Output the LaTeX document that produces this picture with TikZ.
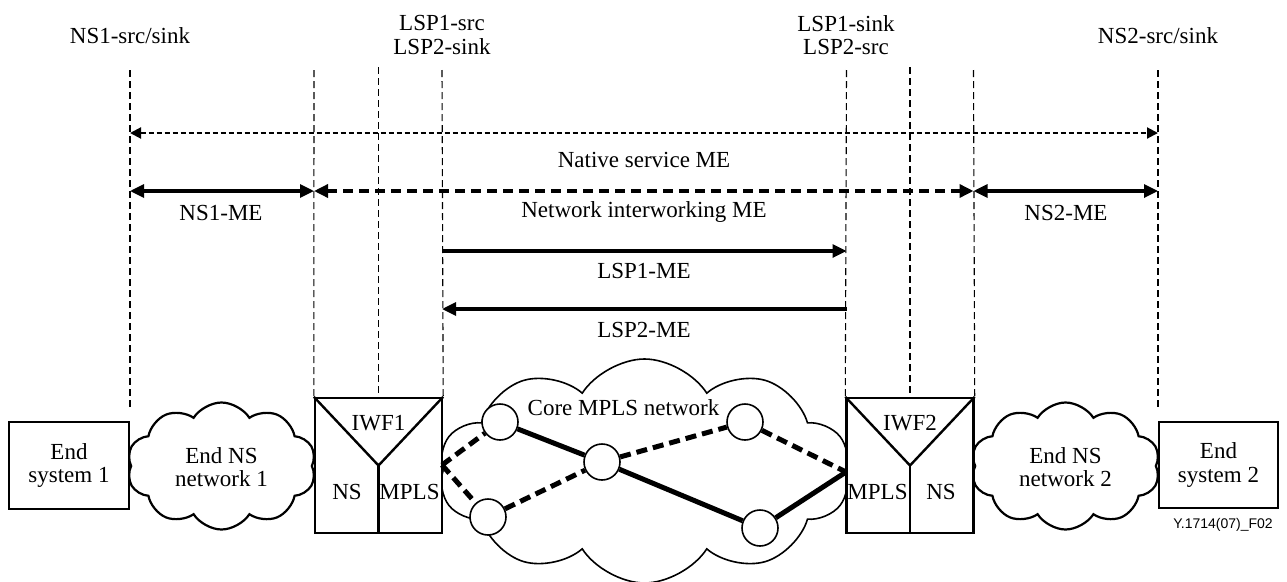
\documentclass[tikz,border=0pt]{standalone}
\usepackage{fontspec}
\setmainfont{Liberation Serif}
\newfontfamily\capfont{Liberation Sans}
\usetikzlibrary{shapes.symbols,arrows.meta,calc}
\begin{document}
\begin{tikzpicture}[x=1pt,y=-1pt,
  every node/.style={font=\fontsize{23}{23.5}\selectfont},
  guide/.style={line width=1.1pt,dash pattern=on 7pt off 4pt},
  nativearr/.style={line width=2pt,dash pattern=on 5pt off 3pt,{Triangle[length=11pt,width=11pt]}-{Triangle[length=11pt,width=11pt]}},
  netarr/.style={line width=3.4pt,dash pattern=on 10pt off 6pt,{Triangle[length=14pt,width=13pt]}-{Triangle[length=14pt,width=13pt]}},
  solidboth/.style={line width=3.2pt,{Triangle[length=14pt,width=13pt]}-{Triangle[length=14pt,width=13pt]}},
  solidone/.style={line width=3.2pt,-{Triangle[length=14pt,width=13pt]}},
  boxnode/.style={draw,line width=2.4pt,fill=white,inner sep=0pt,align=center},
  cloudnode/.style={cloud,draw,cloud ignores aspect,inner sep=0pt,fill=white},
  router/.style={circle,draw,line width=1.6pt,fill=white,minimum size=36pt,inner sep=0pt},
  corelink/.style={line width=5pt},
  coredash/.style={line width=5pt,dash pattern=on 11pt off 6pt},
  ]
\useasboundingbox (0,0) rectangle (1287,581);

% top labels
\node (ns1lab) at (130,36) {NS1-src/sink};
\node[align=center] (lsp1lab) at (442,35) {LSP1-src\\LSP2-sink};
\node[align=center] (lsp2lab) at (846,35) {LSP1-sink\\LSP2-src};
\node (ns2lab) at (1158,36) {NS2-src/sink};

% clouds
\node[cloudnode,cloud puffs=10,cloud puff arc=115,minimum width=411pt,minimum height=224pt,line width=1.6pt] (core) at (644.5,471) {};
\node[cloudnode,cloud puffs=10,cloud puff arc=115,minimum width=189pt,minimum height=127pt,line width=2.2pt] (cl1) at (221.5,466) {};
\node[cloudnode,cloud puffs=10,cloud puff arc=115,minimum width=189pt,minimum height=127pt,line width=2.2pt] (cl2) at (1065.5,466) {};
\node[align=center] (cl1t) at (221.5,467) {End NS\\network 1};
\node[align=center] (cl2t) at (1065.5,467) {End NS\\network 2};

% end systems
\node[boxnode,minimum width=120pt,minimum height=87pt] (es1) at (69,465.5) {End\\system 1};
\node[boxnode,minimum width=119pt,minimum height=86pt] (es2) at (1218.5,465) {End\\system 2};

% IWF boxes
\node[boxnode,minimum width=127pt,minimum height=135pt] (iwf1) at (378.5,465.5) {};
\node[boxnode,minimum width=127pt,minimum height=135pt] (iwf2) at (910,465.5) {};
\draw[line width=2.4pt] (iwf1.north west) -- (iwf1.center) -- (iwf1.north east);
\draw[line width=2.4pt] (iwf1.center) -- (iwf1.south);
\draw[line width=2.4pt] (iwf2.north west) -- (iwf2.center) -- (iwf2.north east);
\draw[line width=2.4pt] (iwf2.center) -- (iwf2.south);
\node (iwf1t) at (378.5,423) {IWF1};
\node (iwf1ns) at (347,492) {NS};
\node (iwf1mp) at (409.5,492) {MPLS};
\node (iwf2t) at (910,423) {IWF2};
\node (iwf2mp) at (877.5,492) {MPLS};
\node (iwf2ns) at (941,492) {NS};

% core network
\coordinate (jL) at (442,465);
\coordinate (jR) at (846,472);
\node[router] (rA) at (500,422) {};
\node[router] (rB) at (602,462) {};
\node[router] (rC) at (745,422) {};
\node[router] (rD) at (488,517) {};
\node[router] (rE) at (760,528) {};
\draw[corelink] (rA) -- (rB);
\draw[corelink] (rB) -- (rE);
\draw[corelink] (rE) -- (jR);
\draw[coredash] (jL) -- (rA);
\draw[coredash] (jL) -- (rD);
\draw[coredash] (rD) -- (rB);
\draw[coredash] (rB) -- (rC);
\draw[coredash] (rC) -- (jR);
\node (coret) at (623.5,408) {Core MPLS network};

% guide lines
\coordinate (g1t) at (130,70);   \coordinate (g1b) at (130,410);
\coordinate (g2t) at (314,70);
\coordinate (g3t) at (378.5,67);
\coordinate (g4t) at (442,70);
\coordinate (g5t) at (846.5,70);
\coordinate (g6t) at (910,67);
\coordinate (g7t) at (973.5,70);
\coordinate (g8t) at (1158,70);  \coordinate (g8b) at (1158,410);
\draw[guide] (g1t) -- (g1b);
\draw[guide] (g2t) -- (iwf1.north west);
\draw[guide] (g3t) -- (iwf1.north);
\draw[guide] (g4t) -- (iwf1.north east);
\draw[guide] (g5t) -- (iwf2.north west);
\draw[guide] (g6t) -- (iwf2.north);
\draw[guide] (g7t) -- (iwf2.north east);
\draw[guide] (g8t) -- (g8b);

% ME arrows
\coordinate (nA) at (130,133);  \coordinate (nB) at (1158,133);
\draw[nativearr] (nA) -- (nB);
\node (natlab) at (644,160) {Native service ME};
\coordinate (m1) at (130,191);  \coordinate (m2) at (314,191);
\coordinate (m3) at (973.5,191); \coordinate (m4) at (1158,191);
\draw[solidboth] (m1) -- (m2);
\draw[netarr] (m2) -- (m3);
\draw[solidboth] (m3) -- (m4);
\node (ns1me) at (221,213) {NS1-ME};
\node (nime) at (644,212) {Network interworking ME};
\node (ns2me) at (1066,213) {NS2-ME};
\coordinate (l1a) at (442,251); \coordinate (l1b) at (846.5,251);
\draw[solidone] (l1a) -- (l1b);
\node (lsp1me) at (644,271) {LSP1-ME};
\coordinate (l2a) at (846.5,309); \coordinate (l2b) at (442,309);
\draw[solidone] (l2a) -- (l2b);
\node (lsp2me) at (644,330) {LSP2-ME};

% figure id
\node[font=\fontsize{14}{16}\selectfont\capfont] (figid) at (1223,525) {Y.1714(07)\_F02};
\end{tikzpicture}
\end{document}
